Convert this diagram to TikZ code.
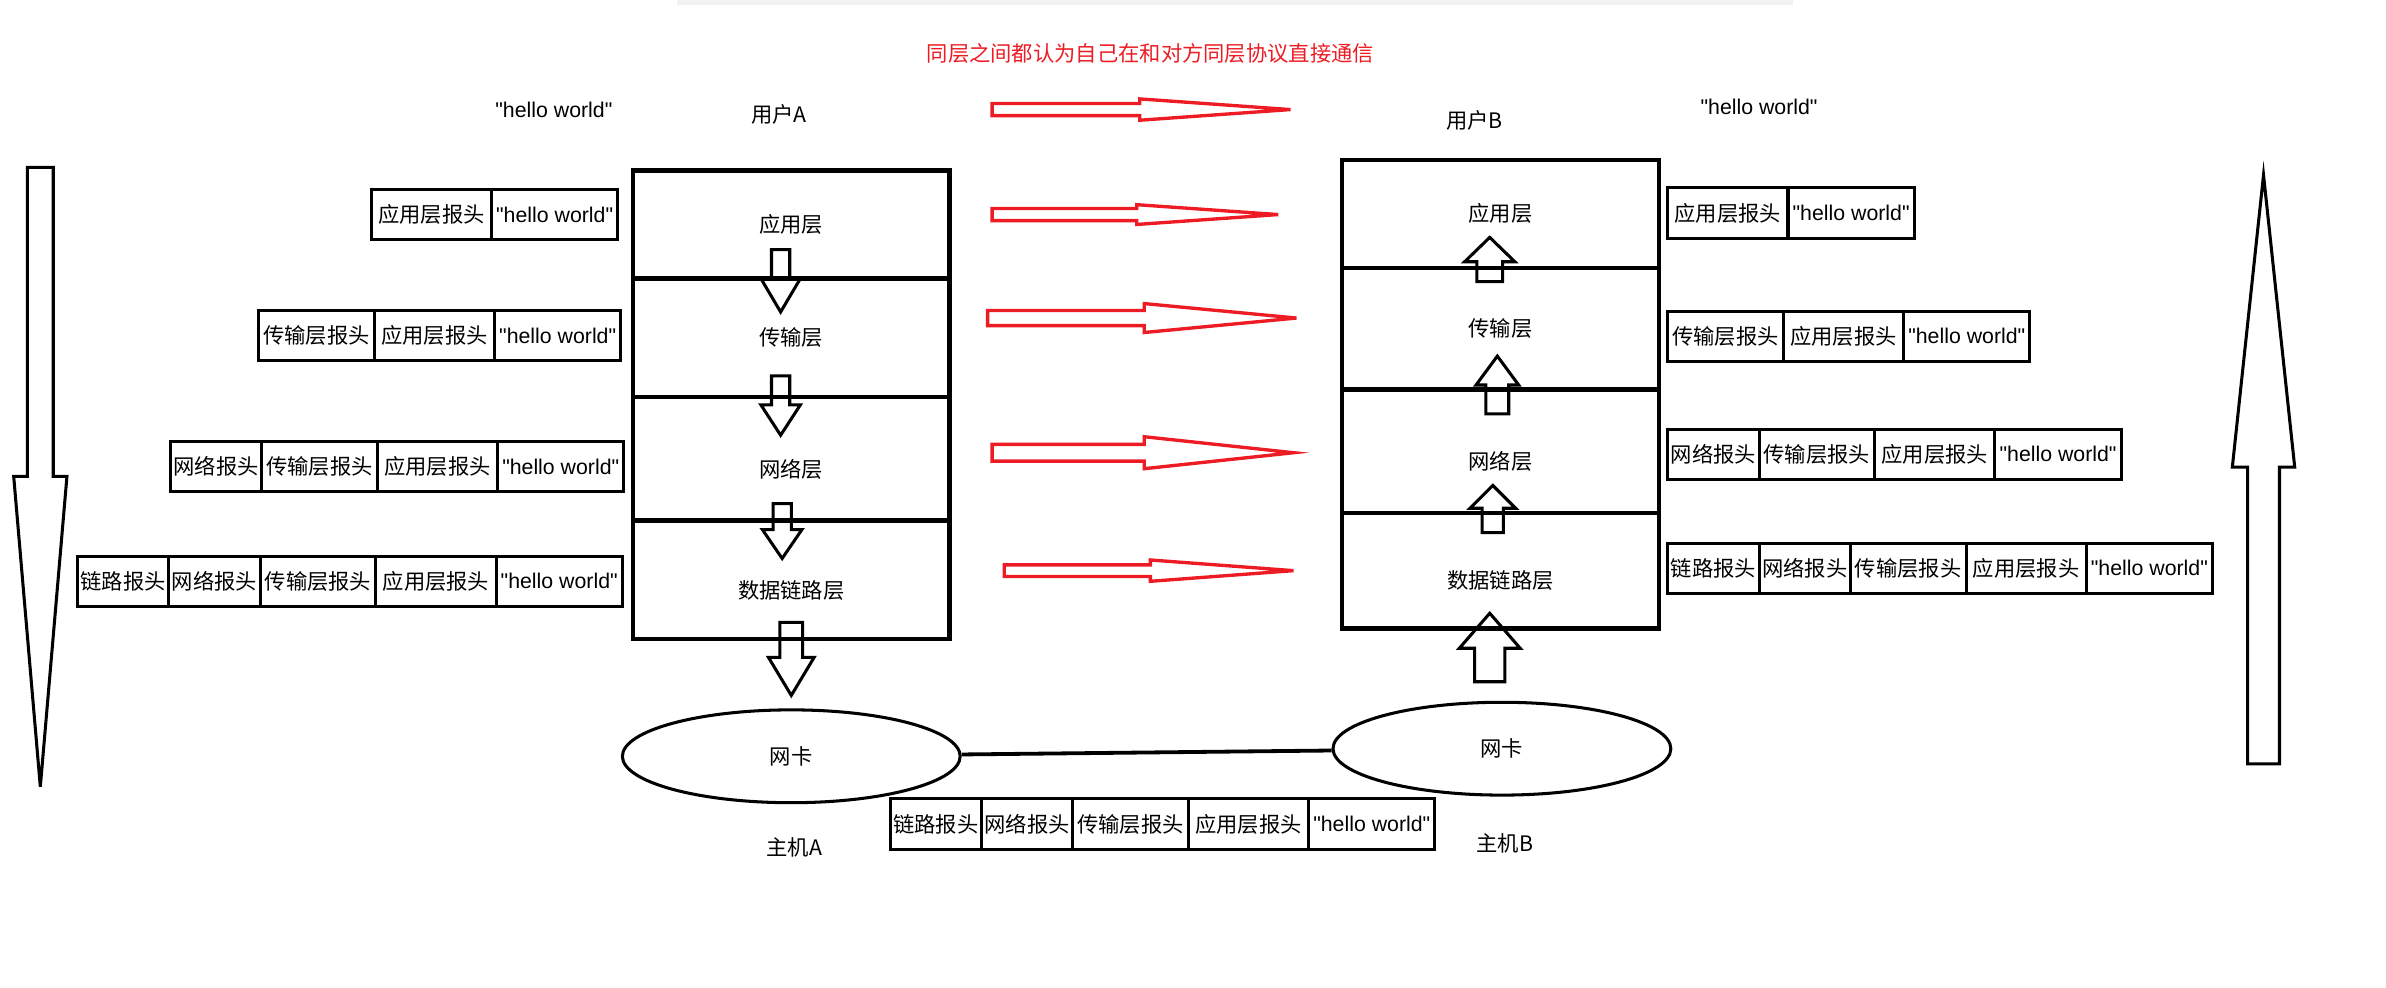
\documentclass[tikz,border=0pt]{standalone}
\usepackage{fontspec}
\setmainfont{Noto Sans CJK SC}[Ligatures=TeXOff]
\newfontfamily\latinfont{Liberation Sans}[Ligatures=TeXOff]
\usetikzlibrary{positioning,shapes.geometric}
\definecolor{paintred}{RGB}{237,28,36}

% hollow block arrows: x, tail y, head base y, tip y, half shaft, half head
\newcommand{\vblock}[6]{\draw[blockarrow] (#1-#5,#2) -- (#1-#5,#3) -- (#1-#6,#3) -- (#1,#4)
  -- (#1+#6,#3) -- (#1+#5,#3) -- (#1+#5,#2) -- cycle}
% y, tail x, head base x, tip x, half shaft, half head
\newcommand{\hblock}[6]{\draw[redarrow] (#2,#1-#5) -- (#3,#1-#5) -- (#3,#1-#6) -- (#4,#1)
  -- (#3,#1+#6) -- (#3,#1+#5) -- (#2,#1+#5) -- cycle}

\begin{document}
\begin{tikzpicture}[x=1pt,y=-1pt,
  every node/.style={font=\fontsize{14}{17}\selectfont},
  hw/.style={font=\latinfont\fontsize{14}{17}\selectfont},
  layer/.style={draw,line width=2.8pt,minimum width=208pt,inner sep=0pt,outer sep=0pt},
  lowtext/.style={text height=26pt,text depth=2pt},
  cell/.style={draw,line width=2pt,minimum height=33pt,inner sep=0pt,outer sep=0pt},
  linkh/.style={cell,minimum width=60pt},
  neth/.style={cell,minimum width=60pt},
  transh/.style={cell,minimum width=76pt},
  apph/.style={cell,minimum width=79pt},
  msg/.style={cell,hw,minimum width=83pt},
  nic/.style={ellipse,draw,line width=2pt,minimum width=222pt,minimum height=61pt},
  blockarrow/.style={draw,line width=2pt},
  redarrow/.style={draw=paintred,line width=2.2pt}]
\useasboundingbox (0,0) rectangle (1568,649);
\fill[black!5] (445,0) rectangle (1178,3);

\node[text=paintred] (title) at (756,35) {同层之间都认为自己在和对方同层协议直接通信};
\node[hw] (msgA) at (364,72) {"hello world"};
\node (userA) at (512,75) {用户A};
\node (userB) at (969,79) {用户B};
\node[hw] (msgB) at (1156,70) {"hello world"};

% host A stack
\node[layer,minimum height=71pt] (appA) at (520,147.5) {应用层};
\node[layer,minimum height=78pt,below=0pt of appA] (transA) {传输层};
\node[layer,lowtext,minimum height=81pt,below=0pt of transA] (netA) {网络层};
\node[layer,lowtext,minimum height=78pt,below=0pt of netA] (linkA) {数据链路层};

% host B stack
\node[layer,minimum height=71pt] (appB) at (986,140.5) {应用层};
\node[layer,minimum height=80pt,below=0pt of appB] (transB) {传输层};
\node[layer,lowtext,minimum height=81pt,below=0pt of transB] (netB) {网络层};
\node[layer,lowtext,minimum height=76pt,below=0pt of netB] (linkB) {数据链路层};

% packets on the sending side
\node[msg,anchor=east] (hwA1) at (406,141) {"hello world"};
\node[apph,left=0pt of hwA1] (apA1) {应用层报头};

\node[msg,anchor=east] (hwA2) at (408,220.5) {"hello world"};
\node[apph,left=0pt of hwA2] (apA2) {应用层报头};
\node[transh,left=0pt of apA2] (trA2) {传输层报头};

\node[msg,anchor=east] (hwA3) at (410,306.5) {"hello world"};
\node[apph,left=0pt of hwA3] (apA3) {应用层报头};
\node[transh,left=0pt of apA3] (trA3) {传输层报头};
\node[neth,left=0pt of trA3] (ntA3) {网络报头};

\node[msg,anchor=east] (hwA4) at (409,382) {"hello world"};
\node[apph,left=0pt of hwA4] (apA4) {应用层报头};
\node[transh,left=0pt of apA4] (trA4) {传输层报头};
\node[neth,left=0pt of trA4] (ntA4) {网络报头};
\node[linkh,left=0pt of ntA4] (lkA4) {链路报头};

% packets on the receiving side
\node[apph,anchor=west] (apB1) at (1096,140) {应用层报头};
\node[msg,right=0pt of apB1] (hwB1) {"hello world"};

\node[transh,anchor=west] (trB2) at (1096,221) {传输层报头};
\node[apph,right=0pt of trB2] (apB2) {应用层报头};
\node[msg,right=0pt of apB2] (hwB2) {"hello world"};

\node[neth,anchor=west] (ntB3) at (1096,298.5) {网络报头};
\node[transh,right=0pt of ntB3] (trB3) {传输层报头};
\node[apph,right=0pt of trB3] (apB3) {应用层报头};
\node[msg,right=0pt of apB3] (hwB3) {"hello world"};

\node[linkh,anchor=west] (lkB4) at (1096,373.5) {链路报头};
\node[neth,right=0pt of lkB4] (ntB4) {网络报头};
\node[transh,right=0pt of ntB4] (trB4) {传输层报头};
\node[apph,right=0pt of trB4] (apB4) {应用层报头};
\node[msg,right=0pt of apB4] (hwB4) {"hello world"};

% frame on the wire
\node[linkh,anchor=west] (lkW) at (585,541.5) {链路报头};
\node[neth,right=0pt of lkW] (ntW) {网络报头};
\node[transh,right=0pt of ntW] (trW) {传输层报头};
\node[apph,right=0pt of trW] (apW) {应用层报头};
\node[msg,right=0pt of apW] (hwW) {"hello world"};

% network cards
\node[nic] (nicA) at (520,497) {网卡};
\node[nic] (nicB) at (987,492) {网卡};
\draw[line width=2.5pt] (nicA) -- (nicB);
\node (hostA) at (522,557) {主机A};
\node (hostB) at (989,554) {主机B};

% down through A, up through B
\vblock{513}{164}{183}{205}{6}{13};
\vblock{513}{247}{266}{286}{6}{13};
\vblock{514}{331}{348}{367}{6}{13};
\vblock{520}{409}{432}{457}{7.5}{15};
\vblock{979}{185}{172}{156}{8.5}{16.5};
\vblock{984}{272}{253}{234}{7.5}{14};
\vblock{981}{350}{334}{319}{7}{15};
\vblock{979}{448}{426}{403}{10}{20};
\vblock{26.5}{110}{313}{517}{8.5}{17.5};
\vblock{1487.5}{502}{307}{115}{10.5}{20.5};

% peer layers
\hblock{72}{652}{749}{848}{4}{7};
\hblock{141}{652}{747}{840}{4}{6.5};
\hblock{209}{649}{752}{852}{5}{9.5};
\hblock{297.5}{652}{752}{850}{5.5}{10.5};
\hblock{375}{660}{756}{850}{3.8}{7};
\end{tikzpicture}
\end{document}
